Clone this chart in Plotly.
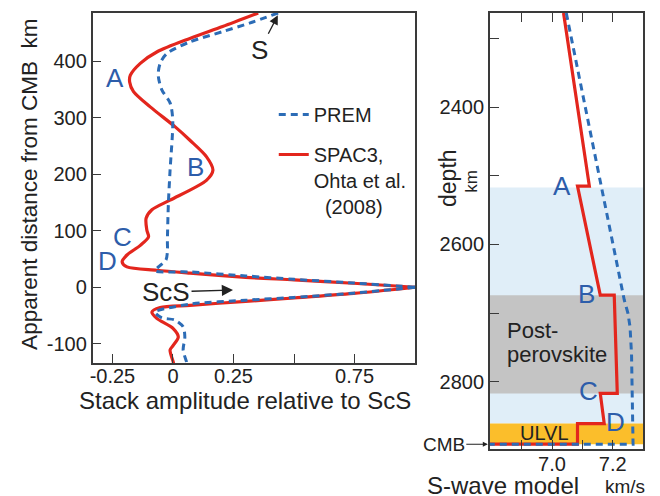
import plotly.graph_objects as go

# ---- Stack amplitude (relative to ScS) vs apparent distance from the CMB ----
spac3_amp = [0.352, 0.205, 0.070, -0.067, -0.135, -0.176, -0.179, -0.163, -0.094, 0.008,
             0.070, 0.138, 0.165, 0.138, -0.012, -0.087, -0.111, -0.108, -0.101, -0.135,
             -0.190, -0.210, -0.190, -0.067, 0.070, 0.300, 0.500, 0.746, 1.000,
             0.746, 0.500, 0.300, 0.070, -0.053, -0.087, -0.067, 0.001, 0.022, 0.001,
             -0.012, 0.001, 0.003]
spac3_dist = [485, 461, 440, 416, 396, 375, 363, 346, 319, 284,
              260, 231, 207, 189, 154, 137, 122, 101, 89, 74,
              57, 45, 36, 30, 25, 17.5, 13, 7, 0,
              -11, -19, -25, -32, -36, -44, -55, -73, -88, -103,
              -111, -132, -136]

prem_amp = [0.434, 0.316, 0.205, 0.070, -0.026, -0.053, -0.061, -0.046, -0.012, -0.001,
            -0.012, -0.019, -0.023, -0.023, -0.029, -0.060, -0.074, 0.070, 0.300, 0.500,
            0.746, 1.000, 0.746, 0.500, 0.300, 0.070, -0.074, -0.046, 0.008, 0.042,
            0.049, 0.042, 0.056, 0.058]
prem_dist = [485, 467, 452, 434, 413, 396, 375, 349, 326, 296,
             207, 148, 83, 65, 48, 36, 29, 27, 20, 14,
             7.5, 0, -10.5, -18, -23, -30, -44, -54, -58, -70,
             -88, -111, -132, -136]

# ---- S-wave velocity models vs depth ----
spac3_depth = [2263, 2515, 2515, 2674, 2674, 2817, 2817, 2861, 2861, 2891, 2891]
spac3_vs = [7.038, 7.123, 7.084, 7.159, 7.205, 7.215, 7.159, 7.172, 7.084, 7.084, 6.795]
prem_depth = [2263, 2681, 2700, 2720, 2760, 2891, 2891]
prem_vs = [7.047, 7.238, 7.250, 7.257, 7.262, 7.267, 6.795]

# Layers shaded behind the velocity models (km)
layer_names = ["D''", "Post-perovskite", "ULVL"]
layer_top = [2517, 2674, 2861]
layer_bottom = [2861, 2817, 2891]

# Tick marks and labels
amp_ticks = [-0.25, 0, 0.25, 0.5, 0.75]
amp_labels = ["-0.25", "0", "0.25", "", "0.75"]
dist_ticks = [-100, 0, 100, 200, 300, 400]
dist_labels = ["-100", "0", "100", "200", "300", "400"]
vs_ticks = [6.9, 7.0, 7.1, 7.2]
vs_labels = ["", "7.0", "", "7.2"]
depth_ticks = [2300, 2400, 2500, 2600, 2700, 2800]
depth_labels = ["", "2400", "", "2600", "", "2800"]

RED = "#E3261D"
BLUE = "#2C6CB6"
LETTER = "#2D5DAA"
INK = "#222222"
FRAME = "#3a3a3a"
FONT = "Liberation Sans, Arial, sans-serif"
layer_colors = ["#E0EEF8", "#C4C4C4", "#FBBE2B"]

fig = go.Figure()


def split_at_peak(amp, dist):
    """Split a stack at its ScS peak so the apex stays sharp."""
    i = amp.index(max(amp))
    return (amp[:i + 1], dist[:i + 1]), (amp[i:], dist[i:])


red_style = dict(color=RED, width=3.2, shape="spline", smoothing=0.8)
blue_style = dict(color=BLUE, width=3.0, dash="7px,5px", shape="spline", smoothing=0.8)

for k, (a, d) in enumerate(split_at_peak(spac3_amp, spac3_dist)):
    fig.add_trace(go.Scatter(x=a, y=d, mode="lines", line=red_style,
                             name="SPAC3,<br>Ohta et al.<br>  (2008)",
                             legendgroup="spac3", legendrank=2,
                             showlegend=(k == 0), xaxis="x", yaxis="y"))
for k, (a, d) in enumerate(split_at_peak(prem_amp, prem_dist)):
    fig.add_trace(go.Scatter(x=a, y=d, mode="lines", line=blue_style,
                             name="PREM", legendgroup="prem", legendrank=1,
                             showlegend=(k == 0), xaxis="x", yaxis="y"))

# Velocity models
fig.add_trace(go.Scatter(x=spac3_vs, y=spac3_depth, mode="lines",
                         line=dict(color=RED, width=3.2), showlegend=False,
                         xaxis="x2", yaxis="y2"))
fig.add_trace(go.Scatter(x=prem_vs, y=prem_depth, mode="lines",
                         line=dict(color=BLUE, width=3.0, dash="7px,5px"),
                         showlegend=False, xaxis="x2", yaxis="y2"))

# Shaded layers
for top, bot, col in zip(layer_top, layer_bottom, layer_colors):
    fig.add_shape(type="rect", xref="x2 domain", yref="y2", x0=0, x1=1,
                  y0=top, y1=bot, fillcolor=col, line_width=0, layer="below")

ann = []


def label(text, x, y, xref, yref, size=26, color=LETTER, xanchor="center",
          yanchor="middle", **kw):
    ann.append(dict(text=text, x=x, y=y, xref=xref, yref=yref, showarrow=False,
                    xanchor=xanchor, yanchor=yanchor,
                    font=dict(family=FONT, size=size, color=color), **kw))


# Letters on the stacks
label("A", -0.241, 370, "x", "y")
label("B", 0.092, 213, "x", "y")
label("C", -0.208, 89, "x", "y")
label("D", -0.270, 46, "x", "y")
# Letters on the models
label("A", 7.034, 2515, "x2", "y2")
label("B", 7.113, 2672, "x2", "y2")
label("C", 7.120, 2814, "x2", "y2")
label("D", 7.208, 2859, "x2", "y2")

# Phase arrows
ann.append(dict(text="ScS", x=0.248, y=-5, xref="x", yref="y", ax=-67, ay=2,
                showarrow=True, arrowhead=2, arrowsize=1.6, arrowwidth=1.4,
                arrowcolor=INK, font=dict(family=FONT, size=26, color=INK)))
ann.append(dict(text="S", x=0.433, y=481, xref="x", yref="y", ax=-18, ay=35,
                showarrow=True, arrowhead=2, arrowsize=1.4, arrowwidth=1.3,
                arrowcolor=INK, font=dict(family=FONT, size=26, color=INK)))

# Layer names
label("Post-", 6.844, 2726, "x2", "y2", size=22, color=INK, xanchor="left")
label("perovskite", 6.844, 2760, "x2", "y2", size=22, color=INK, xanchor="left")
label("ULVL", 6.975, 2875, "x2", "y2", size=20, color=INK)

# CMB marker
ann.append(dict(text="CMB", x=487 / 660, y=2891, xref="paper", yref="y2",
                ax=-44, ay=0, showarrow=True, arrowhead=2, arrowsize=0.9,
                arrowwidth=1.1, arrowcolor=INK,
                font=dict(family=FONT, size=19, color=INK)))

# Axis titles
label("Apparent distance from CMB  km", 26 / 660, 1 - 184 / 496, "paper", "paper",
      size=22.5, color=INK, textangle=-90)
label("Stack amplitude relative to ScS", 243 / 660, 1 - 400 / 496, "paper", "paper",
      size=24, color=INK)
label("depth", 447 / 660, 1 - 178 / 496, "paper", "paper", size=23, color=INK,
      textangle=-90)
label("km", 470 / 660, 1 - 181 / 496, "paper", "paper", size=17, color=INK,
      textangle=-90)
label("S-wave model", 502 / 660, 1 - 485 / 496, "paper", "paper", size=24, color=INK)
label("km/s", 625 / 660, 1 - 486 / 496, "paper", "paper", size=19, color=INK)

axis_common = dict(showline=True, linecolor=FRAME, linewidth=1.5, ticks="inside",
                   ticklen=9, tickwidth=1.4, tickcolor=FRAME, showgrid=False,
                   zeroline=False, tickfont=dict(family=FONT, size=20, color=INK))

fig.update_layout(
    width=660, height=496, autosize=False,
    margin=dict(l=0, r=0, t=0, b=0),
    paper_bgcolor="white", plot_bgcolor="white",
    font=dict(family=FONT, color=INK),
    xaxis=dict(domain=[90 / 660, 414 / 660], range=[-0.332, 1.0],
               tickvals=amp_ticks, ticktext=amp_labels, mirror=True,
               ticklabelstandoff=-6, anchor="y", **axis_common),
    yaxis=dict(domain=[133 / 496, 483 / 496], range=[-134, 485],
               tickvals=dist_ticks, ticktext=dist_labels, mirror=True,
               anchor="x", **axis_common),
    xaxis2=dict(domain=[489 / 660, 643 / 660], range=[6.795, 7.300],
                tickvals=vs_ticks, ticktext=vs_labels, mirror="ticks",
                ticklabelstandoff=-4, anchor="y2", **axis_common),
    yaxis2=dict(domain=[47 / 496, 483 / 496], range=[2898, 2263],
                tickvals=depth_ticks, ticktext=depth_labels, mirror=True,
                anchor="x2", **axis_common),
    legend=dict(x=272 / 660, y=1 - 95 / 496, xanchor="left", yanchor="top",
                bgcolor="rgba(0,0,0,0)", borderwidth=0, valign="top",
                tracegroupgap=11, itemwidth=30,
                font=dict(family=FONT, size=20, color=INK)),
    annotations=ann,
)

fig.write_html("out.html")
